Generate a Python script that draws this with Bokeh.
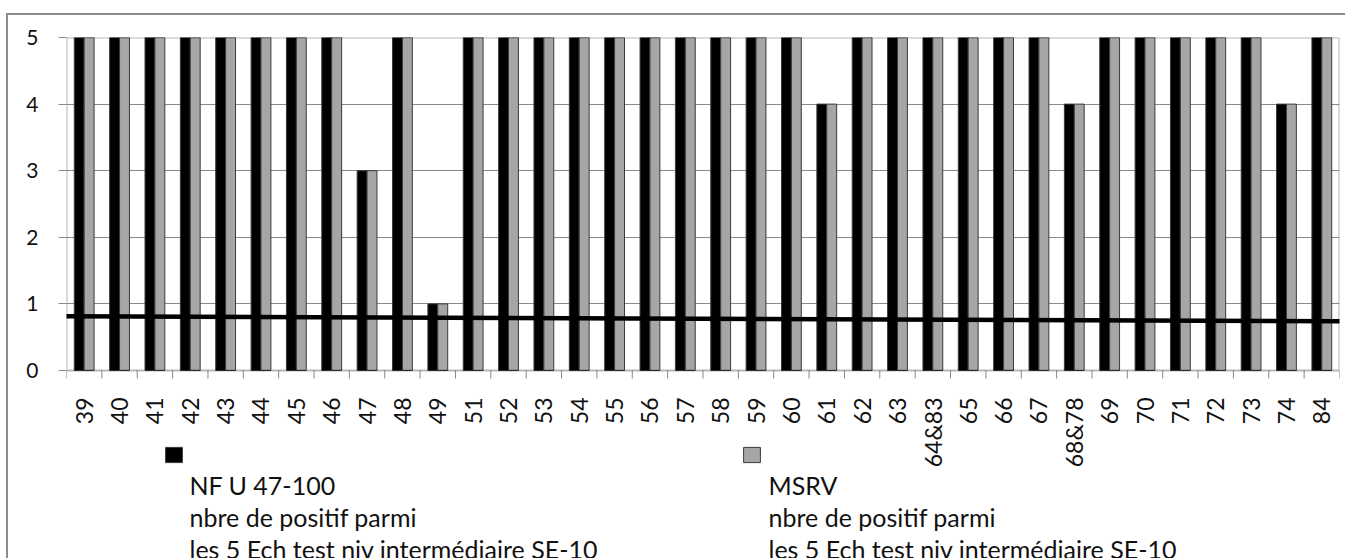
import math
from bokeh.plotting import figure
from bokeh.models import (Legend, LegendItem, FixedTicker, Range1d,
                          BoxAnnotation, Label)
from bokeh.core.properties import value
from bokeh.embed import file_html
from bokeh.resources import INLINE

categories = ["39", "40", "41", "42", "43", "44", "45", "46", "47", "48", "49",
              "51", "52", "53", "54", "55", "56", "57", "58", "59", "60", "61",
              "62", "63", "64&83", "65", "66", "67", "68&78", "69", "70", "71",
              "72", "73", "74", "84"]
nf_values = [5, 5, 5, 5, 5, 5, 5, 5, 3, 5, 1,
             5, 5, 5, 5, 5, 5, 5, 5, 5, 5, 4,
             5, 5, 5, 5, 5, 5, 4, 5, 5, 5,
             5, 5, 4, 5]
msrv_values = [5, 5, 5, 5, 5, 5, 5, 5, 3, 5, 1,
               5, 5, 5, 5, 5, 5, 5, 5, 5, 5, 4,
               5, 5, 5, 5, 5, 5, 4, 5, 5, 5,
               5, 5, 4, 5]
y_ticks = [0, 1, 2, 3, 4, 5]
trend_x = [-1.89, 35.73]
trend_y = [0.818, 0.739]

nf_label = "NF U 47-100\nnbre de positif parmi\nles 5 Ech test niv intermédiaire SE-10"
msrv_label = "MSRV\nnbre de positif parmi\nles 5 Ech test niv intermédiaire SE-10"

FONT = "Lato"
n = len(categories)
xs = list(range(n))
y_max = 5

# layout (pixels)
plot_h = 333        # height of the 0..5 plot area
frame_h = 523       # frame extends down to hold the legend
px_per_unit = plot_h / y_max
y_min = y_max - frame_h / px_per_unit

p = figure(width=1339, height=545, output_backend="svg", toolbar_location=None,
           x_range=Range1d(-0.5, n - 0.5), y_range=Range1d(y_min, y_max),
           x_axis_location=None,
           min_border_left=58, min_border_right=8, min_border_top=22,
           min_border_bottom=0)
p.styles = {"margin-left": "6px", "margin-top": "13px",
            "border-left": "2px solid #8c8c8c", "border-top": "2px solid #8c8c8c"}
p.outline_line_color = None
p.background_fill_color = "white"
p.border_fill_color = "white"

p.xgrid.visible = False
p.ygrid.grid_line_color = "#8a8a8a"
p.ygrid.grid_line_width = 1
p.ygrid.ticker = FixedTicker(ticks=y_ticks[1:-1])

bw = 0.28
r_nf = p.vbar(x=[x - bw / 2 for x in xs], top=nf_values, width=bw,
              fill_color="black", line_color="#3a3a3a", line_width=1)
r_ms = p.vbar(x=[x + bw / 2 for x in xs], top=msrv_values, width=bw,
              fill_color="#a6a6a6", line_color="#3a3a3a", line_width=1)

# plot-area border
p.add_layout(BoxAnnotation(left=-0.5, right=n - 0.5, bottom=0, top=y_max,
                           fill_color=None, line_color="#111111", line_width=2))

# horizontal line across the chart
p.line(trend_x, trend_y, line_color="black", line_width=4.5)

# category axis: boundary ticks and vertical labels under y = 0
tick_len = 8 / px_per_unit
bounds = [x - 0.5 for x in xs] + [n - 0.5]
p.segment(x0=bounds, y0=[0] * len(bounds), x1=bounds, y1=[-tick_len] * len(bounds),
          line_color="#8a8a8a", line_width=1)
p.text(x=xs, y=[0] * n, text=categories, angle=math.pi / 2,
       text_align="right", text_baseline="middle", y_offset=27,
       text_font=value(FONT), text_font_size="23px", text_color="#111111")

ya = p.yaxis[0]
ya.ticker = FixedTicker(ticks=y_ticks)
ya.axis_line_color = None
ya.major_tick_out = 8
ya.major_tick_in = 0
ya.minor_tick_out = 0
ya.minor_tick_in = 0
ya.major_tick_line_color = "#8a8a8a"
ya.major_label_standoff = 20
ya.major_label_text_font = FONT
ya.major_label_text_font_size = "21px"
ya.major_label_text_color = "#111111"


def swatch_legend(renderer, x):
    return Legend(items=[LegendItem(label=" ", renderers=[renderer])],
                  location=(x, 96), orientation="vertical",
                  padding=0, margin=0, border_line_color=None,
                  background_fill_alpha=0, glyph_width=21, glyph_height=19,
                  label_standoff=0, label_width=1, label_height=15,
                  label_text_font_size="1px")


p.add_layout(swatch_legend(r_nf, 97))
p.add_layout(swatch_legend(r_ms, 675))

for txt, x in [(nf_label, 123), (msrv_label, 702)]:
    p.add_layout(Label(x=x, y=91, x_units="screen", y_units="screen", text=txt,
                       text_align="left", text_baseline="top",
                       text_font=FONT, text_font_size="25px",
                       text_line_height=1.07, text_color="#111111"))

open("out.html", "w").write(file_html(p, INLINE))
